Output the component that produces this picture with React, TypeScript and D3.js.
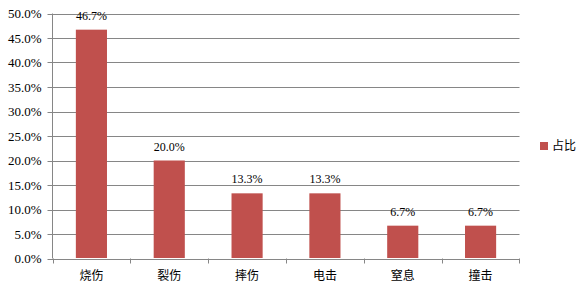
import React from "react";
import * as d3 from "d3";

const categories = ["烧伤", "裂伤", "摔伤", "电击", "窒息", "撞击"];
const values = [46.7, 20.0, 13.3, 13.3, 6.7, 6.7];
const yTicks = [0, 5, 10, 15, 20, 25, 30, 35, 40, 45, 50];
const seriesName = "占比";

export default function App() {
  const W = 585, H = 295;
  const left = 52.5, right = 519.5, top = 13.5, bottom = 258.5;
  const x = d3.scaleBand<string>().domain(categories).range([left, right]).paddingInner(0.6).paddingOuter(0.3);
  const xb = d3.scaleBand<string>().domain(categories).range([left, right]);
  const y = d3.scaleLinear().domain([0, 50]).range([bottom, top]);
  const grid = "#868686";
  const color = "#C0504D";
  const serif = "'Liberation Serif', 'Times New Roman', serif";
  const sans = "'Noto Sans CJK SC', sans-serif";
  return (
    <div style={{ position: "absolute", left: 0, top: 0 }}>
      <svg width={W} height={H} style={{ display: "block", background: "#fff" }}>
        {yTicks.map((t) => (
          <g key={t}>
            <line x1={left - 5} x2={right} y1={Math.round(y(t)) + 0.5} y2={Math.round(y(t)) + 0.5} stroke={grid} strokeWidth={1} />
            <text x={41.5} y={y(t)} dy="0.35em" textAnchor="end" fontFamily={serif} fontSize={13} fill="#000">
              {t.toFixed(1) + "%"}
            </text>
          </g>
        ))}
        <line x1={left} x2={left} y1={top} y2={bottom} stroke={grid} strokeWidth={1} />
        {categories.map((c, i) => (
          <line key={"t" + i} x1={Math.round(xb(c)!) + 0.5} x2={Math.round(xb(c)!) + 0.5} y1={bottom} y2={bottom + 5} stroke={grid} strokeWidth={1} />
        ))}
        <line x1={right} x2={right} y1={bottom} y2={bottom + 5} stroke={grid} strokeWidth={1} />
        {categories.map((c, i) => (
          <g key={c}>
            <rect x={x(c)!} y={y(values[i])} width={x.bandwidth()} height={bottom - 0.5 - y(values[i])} fill={color} />
            <text x={x(c)! + x.bandwidth() / 2} y={y(values[i]) - 10} textAnchor="middle" fontFamily={serif} fontSize={12} fill="#000">
              {values[i].toFixed(1) + "%"}
            </text>
            <text x={xb(c)! + xb.bandwidth() / 2} y={276} dy="0.35em" textAnchor="middle" fontFamily={sans} fontSize={12} fill="#000">
              {c}
            </text>
          </g>
        ))}
        <rect x={540} y={142} width={8} height={8} fill={color} />
        <text x={552} y={146} dy="0.35em" fontFamily={sans} fontSize={12} fill="#000">{seriesName}</text>
      </svg>
    </div>
  );
}
